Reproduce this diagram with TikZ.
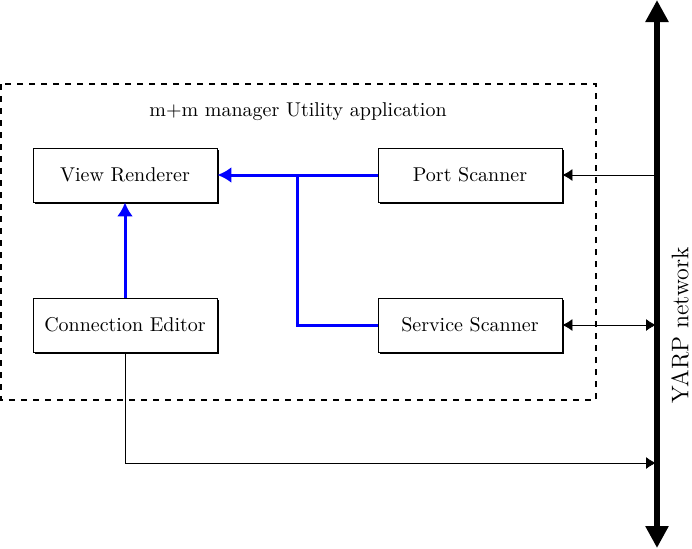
\documentclass[tikz,border=0pt]{standalone}
\usetikzlibrary{positioning, arrows.meta, calc, shadows}

\begin{document}
\begin{tikzpicture}[
  x=0.5pt, y=-0.5pt,
  align=center,
  % Block styles
  box/.style={draw, rectangle, minimum width=92pt, minimum height=27pt, fill=white,
    drop shadow={shadow xshift=1pt, shadow yshift=-1pt, fill=black, opacity=1}},
  frame/.style={draw, dashed, thick},
  % Arrow styles
  line/.style={draw, -{Latex[length=5pt, width=6pt]}},
  dline/.style={draw, {Latex[length=5pt, width=6pt]}-{Latex[length=5pt, width=6pt]}},
  blueline/.style={draw=blue, line width=1.5pt},
  bluearrow/.style={blueline, -{Latex[length=7pt, width=8pt]}},
  bus/.style={draw, line width=3pt, {Triangle[length=11pt, width=11pt]}-{Triangle[length=11pt, width=11pt]}}
]
  \useasboundingbox (0,0) rectangle (692,548);

  % ==========================================
  % APPLICATION FRAME
  % ==========================================
  \draw[frame] (1,84) rectangle (596,400);
  \node (titulo) at (298,112) {m+m manager Utility application};

  % ==========================================
  % BLOCKS
  % ==========================================
  \node[box] (vista) at (125,175) {View Renderer};
  \node[box] (puertos) at (470,175) {Port Scanner};
  \node[box] (editor) at (125,325) {Connection Editor};
  \node[box] (servicios) at (470,325) {Service Scanner};

  % ==========================================
  % YARP BUS
  % ==========================================
  \coordinate (bus_top) at (657,0);
  \coordinate (bus_bottom) at (657,548);
  \draw[bus] (bus_bottom) -- (bus_top);
  \node[rotate=90, font=\large] (yarp) at (680,325) {YARP network};

  \coordinate (bus_port) at (657,175);
  \coordinate (bus_service) at (656,325);
  \coordinate (bus_editor) at (656,463);

  % ==========================================
  % CONNECTIONS
  % ==========================================
  \draw[line] (bus_port) -- (puertos.east);
  \draw[dline] (servicios.east) -- (bus_service);
  \draw[line] (editor.south) |- (bus_editor);

  \draw[bluearrow] (puertos.west) -- (vista.east);
  \draw[blueline] (servicios.west) -| (297,175);
  \draw[bluearrow] (editor.north) -- (vista.south);

\end{tikzpicture}
\end{document}
